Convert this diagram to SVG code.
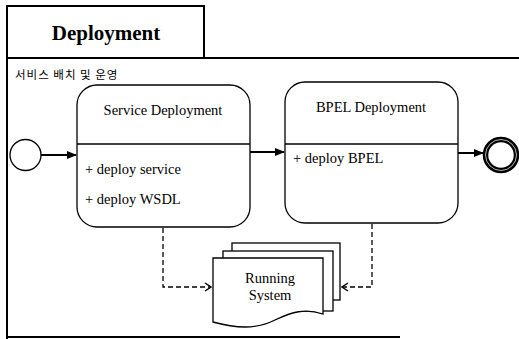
<svg xmlns="http://www.w3.org/2000/svg" width="519" height="339" viewBox="0 0 519 339">
<style>
.frame{fill:none;stroke:#000;stroke-width:2}
.box{fill:#fff;stroke:#000;stroke-width:1.3}
.div{stroke:#000;stroke-width:1.3}
.t{font-family:"Liberation Serif","Times New Roman",serif;font-size:14.5px;fill:#000}
.title{font-family:"Liberation Serif","Times New Roman",serif;font-size:21px;font-weight:bold;fill:#000}
.kr{font-family:"Noto Sans CJK KR","Noto Sans",sans-serif;font-size:11.5px;fill:#000}
.flow{fill:none;stroke:#000;stroke-width:2}
.dep{fill:none;stroke:#000;stroke-width:1.3;stroke-dasharray:5,3}
.page{fill:#fff;stroke:#000;stroke-width:1.3}
</style>
<defs>
<marker id="arr" markerWidth="10" markerHeight="8" refX="9" refY="4" orient="auto" markerUnits="userSpaceOnUse">
<path d="M0,0 L10,4 L0,8 Z" fill="#000"/>
</marker>
<marker id="open" markerWidth="10" markerHeight="10" refX="8" refY="5" orient="auto" markerUnits="userSpaceOnUse">
<path d="M2,1 L8,5 L2,9" fill="none" stroke="#000" stroke-width="1.5"/>
</marker>
</defs>
<rect width="519" height="339" fill="#fff"/>
<g id="frame">
<path class="frame" d="M7,339 V58 H519"/>
<path class="frame" d="M7,337 H400"/>
<rect class="frame" x="7" y="6" width="197" height="52" fill="none"/>
<text class="title" x="106" y="40" text-anchor="middle">Deployment</text>
<text class="kr" x="15" y="79" letter-spacing="1">서비스 배치 및 운영</text>
</g>
<g id="connectors">
<line class="flow" x1="41" y1="155" x2="76" y2="155" marker-end="url(#arr)"/>
<line class="flow" x1="250" y1="152" x2="284" y2="152" marker-end="url(#arr)"/>
<line class="flow" x1="458" y1="153" x2="483" y2="153" marker-end="url(#arr)"/>
<path class="dep" d="M163,228 V287 H211" marker-end="url(#open)"/>
<path class="dep" d="M372,224 V287 H342" marker-end="url(#open)"/>
</g>
<g id="start">
<circle cx="25.5" cy="155" r="15.5" fill="#fff" stroke="#000" stroke-width="1.3"/>
</g>
<g id="service-deployment">
<rect class="box" x="77" y="85" width="173" height="142" rx="20" ry="20"/>
<line class="div" x1="77" y1="144" x2="250" y2="144"/>
<text class="t" x="163" y="115" text-anchor="middle">Service Deployment</text>
<text class="t" x="85" y="174">+ deploy service</text>
<text class="t" x="85" y="204">+ deploy WSDL</text>
</g>
<g id="bpel-deployment">
<rect class="box" x="285" y="82" width="173" height="141" rx="20" ry="20"/>
<line class="div" x1="285" y1="144" x2="458" y2="144"/>
<text class="t" x="371" y="112" text-anchor="middle">BPEL Deployment</text>
<text class="t" x="293" y="163">+ deploy BPEL</text>
</g>
<g id="running-system">
<rect class="page" x="232" y="243" width="108" height="57"/>
<rect class="page" x="223" y="251" width="110" height="60"/>
<path class="page" d="M213,258 H323 V314 C305,308 292,312 275,320 C255,330 235,328 213,322 Z"/>
<text class="t" x="270" y="283" text-anchor="middle">Running</text>
<text class="t" x="270" y="300" text-anchor="middle">System</text>
</g>
<g id="end">
<circle cx="501" cy="155" r="15.5" fill="#fff" stroke="#000" stroke-width="5.5"/>
<circle cx="501" cy="155" r="15.5" fill="none" stroke="#fff" stroke-width="0.7"/>
</g>
</svg>
